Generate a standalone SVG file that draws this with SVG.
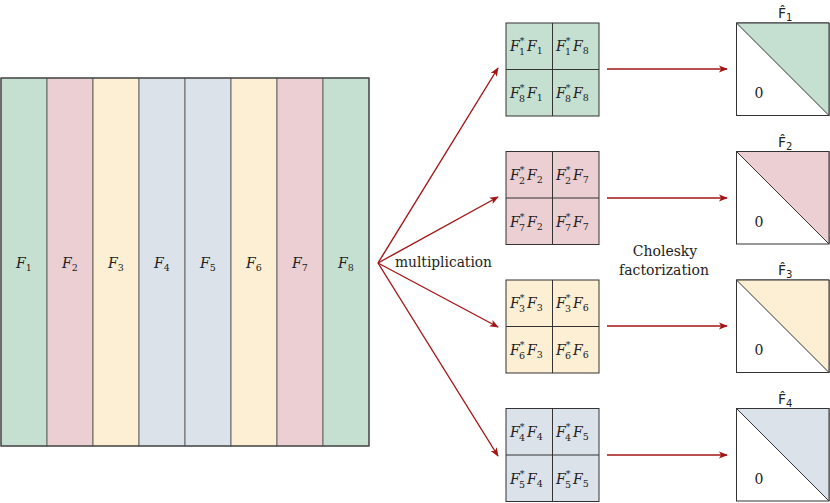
<svg xmlns="http://www.w3.org/2000/svg" width="830" height="503" viewBox="0 0 830 503">
<style>
.ln{stroke:#333;stroke-width:1;fill:none}
.g{fill:#c5e0d0}.p{fill:#ebcfd2}.y{fill:#fdefd3}.b{fill:#dbe2ea}.w{fill:#fff}
.col{stroke:#666;stroke-width:1}
.m{font-family:'DejaVu Serif','Liberation Serif',serif;font-style:italic;font-size:14px;fill:#222}
.s{font-size:9.5px;font-style:normal}
.t{font-family:'DejaVu Serif','Liberation Serif',serif;font-size:14px;fill:#222}
.h{font-family:'DejaVu Sans','Liberation Sans',sans-serif;font-size:14px;fill:#222}
.hs{font-size:10px}
.arr{stroke:#a31515;stroke-width:1.4;fill:none;marker-end:url(#ah)}
</style>
<defs>
<marker id="ah" viewBox="0 0 10 10" refX="9" refY="5" markerWidth="9" markerHeight="9" markerUnits="userSpaceOnUse" orient="auto">
<path d="M0,1 L10,5 L0,9 L2.5,5 Z" fill="#a31515"/>
</marker>
</defs>
<rect width="830" height="503" fill="#fff"/>

<g id="matrixF">
<rect x="1" y="78" width="46" height="368" class="col g"/>
<rect x="47" y="78" width="46" height="368" class="col p"/>
<rect x="93" y="78" width="46" height="368" class="col y"/>
<rect x="139" y="78" width="46" height="368" class="col b"/>
<rect x="185" y="78" width="46" height="368" class="col b"/>
<rect x="231" y="78" width="46" height="368" class="col y"/>
<rect x="277" y="78" width="46" height="368" class="col p"/>
<rect x="323" y="78" width="46" height="368" class="col g"/>
<rect x="1" y="78" width="368" height="368" fill="none" stroke="#444" stroke-width="1.2"/>
<text class="m" y="268"><tspan x="16">F</tspan><tspan class="s" dy="3">1</tspan></text>
<text class="m" y="268"><tspan x="62">F</tspan><tspan class="s" dy="3">2</tspan></text>
<text class="m" y="268"><tspan x="108">F</tspan><tspan class="s" dy="3">3</tspan></text>
<text class="m" y="268"><tspan x="154">F</tspan><tspan class="s" dy="3">4</tspan></text>
<text class="m" y="268"><tspan x="200">F</tspan><tspan class="s" dy="3">5</tspan></text>
<text class="m" y="268"><tspan x="246">F</tspan><tspan class="s" dy="3">6</tspan></text>
<text class="m" y="268"><tspan x="292">F</tspan><tspan class="s" dy="3">7</tspan></text>
<text class="m" y="268"><tspan x="338">F</tspan><tspan class="s" dy="3">8</tspan></text>
</g>

<g id="connectors">
<path class="arr" d="M378,263 L498,68"/>
<path class="arr" d="M378,263 L498,197"/>
<path class="arr" d="M378,263 L498,327"/>
<path class="arr" d="M378,263 L498,456"/>
<path class="arr" d="M607,69 L727,69"/>
<path class="arr" d="M607,198 L727,198"/>
<path class="arr" d="M607,326 L727,326"/>
<path class="arr" d="M607,455 L727,455"/>
</g>

<g id="labels">
<text class="t" x="395" y="267" textLength="97" lengthAdjust="spacingAndGlyphs">multiplication</text>
<text class="t" x="665" y="256" text-anchor="middle">Cholesky</text>
<text class="t" x="664" y="275" text-anchor="middle">factorization</text>
</g>

<g id="block1">
<rect x="506" y="23" width="93" height="93" class="ln g"/>
<path class="ln" d="M552.5,23 V116 M506,69.5 H599"/>
<text class="m" y="51"><tspan x="510">F</tspan><tspan class="s" dy="-7">*</tspan><tspan class="s" x="519" dy="11">1</tspan><tspan dy="-4" x="527">F</tspan><tspan class="s" dy="3">1</tspan></text>
<text class="m" y="51"><tspan x="556">F</tspan><tspan class="s" dy="-7">*</tspan><tspan class="s" x="565" dy="11">1</tspan><tspan dy="-4" x="573">F</tspan><tspan class="s" dy="3">8</tspan></text>
<text class="m" y="98"><tspan x="510">F</tspan><tspan class="s" dy="-7">*</tspan><tspan class="s" x="519" dy="11">8</tspan><tspan dy="-4" x="527">F</tspan><tspan class="s" dy="3">1</tspan></text>
<text class="m" y="98"><tspan x="556">F</tspan><tspan class="s" dy="-7">*</tspan><tspan class="s" x="565" dy="11">8</tspan><tspan dy="-4" x="573">F</tspan><tspan class="s" dy="3">8</tspan></text>
</g>

<g id="block2">
<rect x="506" y="151.5" width="93" height="93" class="ln p"/>
<path class="ln" d="M552.5,151.5 V244.5 M506,198 H599"/>
<text class="m" y="179.5"><tspan x="510">F</tspan><tspan class="s" dy="-7">*</tspan><tspan class="s" x="519" dy="11">2</tspan><tspan dy="-4" x="527">F</tspan><tspan class="s" dy="3">2</tspan></text>
<text class="m" y="179.5"><tspan x="556">F</tspan><tspan class="s" dy="-7">*</tspan><tspan class="s" x="565" dy="11">2</tspan><tspan dy="-4" x="573">F</tspan><tspan class="s" dy="3">7</tspan></text>
<text class="m" y="226.5"><tspan x="510">F</tspan><tspan class="s" dy="-7">*</tspan><tspan class="s" x="519" dy="11">7</tspan><tspan dy="-4" x="527">F</tspan><tspan class="s" dy="3">2</tspan></text>
<text class="m" y="226.5"><tspan x="556">F</tspan><tspan class="s" dy="-7">*</tspan><tspan class="s" x="565" dy="11">7</tspan><tspan dy="-4" x="573">F</tspan><tspan class="s" dy="3">7</tspan></text>
</g>

<g id="block3">
<rect x="506" y="280" width="93" height="93" class="ln y"/>
<path class="ln" d="M552.5,280 V373 M506,326.5 H599"/>
<text class="m" y="308"><tspan x="510">F</tspan><tspan class="s" dy="-7">*</tspan><tspan class="s" x="519" dy="11">3</tspan><tspan dy="-4" x="527">F</tspan><tspan class="s" dy="3">3</tspan></text>
<text class="m" y="308"><tspan x="556">F</tspan><tspan class="s" dy="-7">*</tspan><tspan class="s" x="565" dy="11">3</tspan><tspan dy="-4" x="573">F</tspan><tspan class="s" dy="3">6</tspan></text>
<text class="m" y="355"><tspan x="510">F</tspan><tspan class="s" dy="-7">*</tspan><tspan class="s" x="519" dy="11">6</tspan><tspan dy="-4" x="527">F</tspan><tspan class="s" dy="3">3</tspan></text>
<text class="m" y="355"><tspan x="556">F</tspan><tspan class="s" dy="-7">*</tspan><tspan class="s" x="565" dy="11">6</tspan><tspan dy="-4" x="573">F</tspan><tspan class="s" dy="3">6</tspan></text>
</g>

<g id="block4">
<rect x="506" y="408.5" width="93" height="93" class="ln b"/>
<path class="ln" d="M552.5,408.5 V501.5 M506,455 H599"/>
<text class="m" y="436.5"><tspan x="510">F</tspan><tspan class="s" dy="-7">*</tspan><tspan class="s" x="519" dy="11">4</tspan><tspan dy="-4" x="527">F</tspan><tspan class="s" dy="3">4</tspan></text>
<text class="m" y="436.5"><tspan x="556">F</tspan><tspan class="s" dy="-7">*</tspan><tspan class="s" x="565" dy="11">4</tspan><tspan dy="-4" x="573">F</tspan><tspan class="s" dy="3">5</tspan></text>
<text class="m" y="483.5"><tspan x="510">F</tspan><tspan class="s" dy="-7">*</tspan><tspan class="s" x="519" dy="11">5</tspan><tspan dy="-4" x="527">F</tspan><tspan class="s" dy="3">4</tspan></text>
<text class="m" y="483.5"><tspan x="556">F</tspan><tspan class="s" dy="-7">*</tspan><tspan class="s" x="565" dy="11">5</tspan><tspan dy="-4" x="573">F</tspan><tspan class="s" dy="3">5</tspan></text>
</g>

<g id="chol1">
<rect x="736.5" y="23" width="92.5" height="92.5" class="ln w"/>
<path d="M736.5,23 H829 V115.5 Z" class="ln g"/>
<text class="t" x="759" y="98" text-anchor="middle">0</text>
<text class="h" x="778" y="18">F̂<tspan class="hs" dy="3">1</tspan></text>
</g>
<g id="chol2">
<rect x="736.5" y="151.5" width="92.5" height="92.5" class="ln w"/>
<path d="M736.5,151.5 H829 V244 Z" class="ln p"/>
<text class="t" x="759" y="226.5" text-anchor="middle">0</text>
<text class="h" x="778" y="146.5">F̂<tspan class="hs" dy="3">2</tspan></text>
</g>
<g id="chol3">
<rect x="736.5" y="280" width="92.5" height="92.5" class="ln w"/>
<path d="M736.5,280 H829 V372.5 Z" class="ln y"/>
<text class="t" x="759" y="355" text-anchor="middle">0</text>
<text class="h" x="778" y="275">F̂<tspan class="hs" dy="3">3</tspan></text>
</g>
<g id="chol4">
<rect x="736.5" y="408.5" width="92.5" height="92.5" class="ln w"/>
<path d="M736.5,408.5 H829 V501 Z" class="ln b"/>
<text class="t" x="759" y="483.5" text-anchor="middle">0</text>
<text class="h" x="778" y="403.5">F̂<tspan class="hs" dy="3">4</tspan></text>
</g>
</svg>
